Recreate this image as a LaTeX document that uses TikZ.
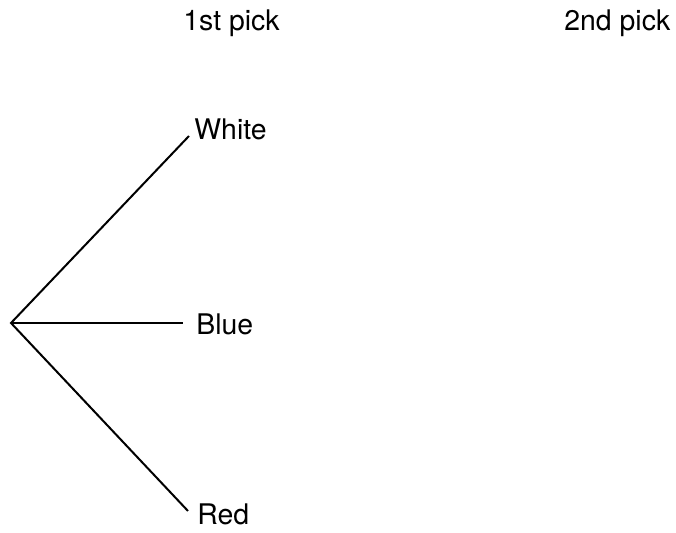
\documentclass[tikz,border=0pt]{standalone}
\usepackage{fontspec}
\setmainfont{TeX Gyre Heros}
\usetikzlibrary{positioning}
\begin{document}
\begin{tikzpicture}[x=0.5pt,y=-0.5pt,font=\fontsize{14.2}{16}\selectfont,
  pick/.style={anchor=base west,inner sep=0pt},
  branch/.style={line width=1pt}]
\useasboundingbox (0,0) rectangle (676,533);
% column headings
\node[pick] (firstpick) at (183,31) {1st pick};
\node[pick] (secondpick) at (564,31) {2nd pick};
% first pick branches
\coordinate (root) at (11,323);
\node[pick] (white) at (194,140) {White};
\node[pick] (blue) at (196,335) {Blue};
\node[pick] (red) at (197,525) {Red};
\coordinate (whiteend) at (189,136);
\coordinate (blueend) at (183,323);
\coordinate (redend) at (188,511);
\draw[branch] (whiteend) -- (root) -- (redend);
\draw[branch] (root) -- (blueend);
\end{tikzpicture}
\end{document}
